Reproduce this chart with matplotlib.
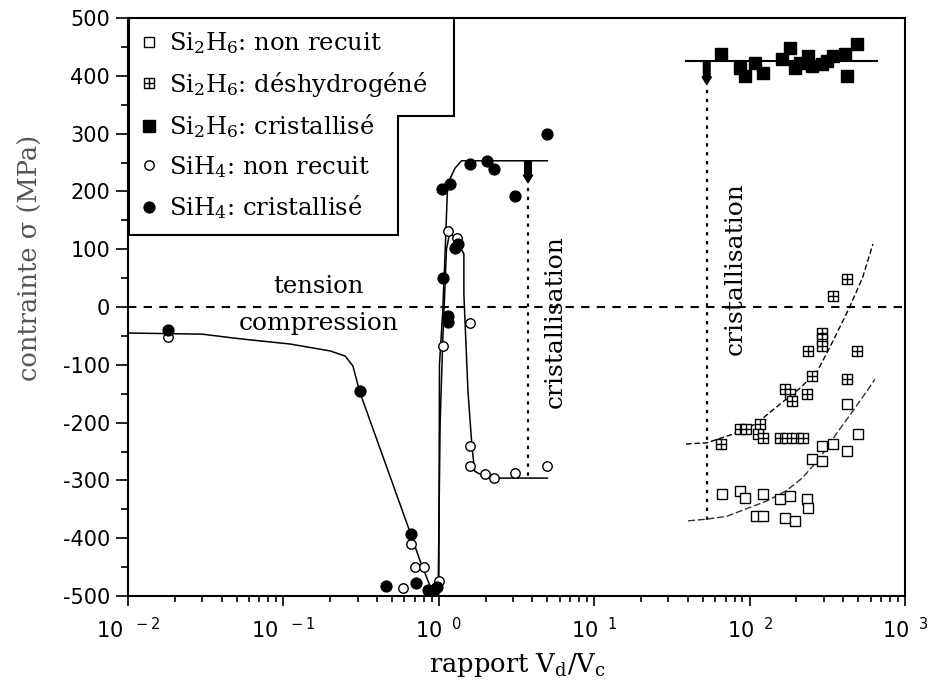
import math
import matplotlib
matplotlib.use('Agg')
import matplotlib.pyplot as plt
import matplotlib.ticker as mticker
from matplotlib.path import Path
from matplotlib.patches import Polygon

plt.rcParams['axes.unicode_minus'] = False
plt.rcParams['mathtext.default'] = 'regular'
plt.rcParams['font.family'] = ['DejaVu Serif']

# ---------------- data ----------------
# SiH4 : cristallise (filled circles)
sih4_cr_x = [0.018, 0.31, 0.66, 0.46, 0.71, 0.85, 0.92, 0.98, 1.06, 1.15, 1.15, 1.27, 1.33,
             1.05, 1.18, 1.59, 2.04, 2.27, 3.09, 4.97]
sih4_cr_y = [-40, -145, -393, -483, -477, -490, -490, -485, 50, -16, -26, 102, 109,
             205, 213, 247, 253, 239, 192, 299]
# SiH4 : non recuit (open circles)
sih4_nr_x = [0.018, 0.66, 0.70, 0.80, 0.59, 1.0, 1.06, 1.15, 1.31, 1.59, 1.59, 1.59,
             1.98, 2.28, 3.09, 4.97]
sih4_nr_y = [-52, -410, -450, -450, -486, -474, -67, 131, 119, -28, -240, -275,
             -289, -296, -287, -275]
# Si2H6 : cristallise (filled squares)
si2h6_cr_x = [65.5, 86.7, 93.5, 108, 122, 162, 182, 196, 212, 238, 253, 292, 315, 344,
              411, 424, 491]
si2h6_cr_y = [438, 413, 400, 422, 405, 429, 448, 413, 422, 434, 417, 420, 425, 434,
              438, 400, 455]
# Si2H6 : deshydrogene (boxed-plus squares)
si2h6_dh_x = [424, 344, 292, 292, 292, 238, 491, 253, 424, 169, 182, 188, 234, 117, 87,
              95, 114, 122, 157, 175, 200, 221, 65]
si2h6_dh_y = [48, 19, -45, -55, -67, -76, -76, -119, -125, -142, -150, -163, -150, -202,
              -211, -211, -220, -227, -227, -227, -227, -227, -237]
# Si2H6 : non recuit (open squares)
si2h6_nr_x = [66, 87, 94, 122, 110, 122, 157, 182, 169, 196, 234, 238, 253, 292, 292,
              344, 424, 496, 424]
si2h6_nr_y = [-324, -318, -330, -324, -362, -362, -332, -327, -365, -370, -332, -348,
              -263, -266, -240, -237, -249, -220, -168]

# guide curves
curve_sih4_cr_x = [0.01, 0.03, 0.0525, 0.11, 0.2, 0.25, 0.28, 0.31, 0.66, 0.76, 0.9, 0.98,
                   1.0, 1.01, 1.06, 1.1, 1.14, 1.27, 1.40, 5.0]
curve_sih4_cr_y = [-45, -47, -55, -64, -76, -85, -102, -147, -393, -440, -490, -497,
                   -497, -100, -7, 100, 213, 240, 253, 253]
curve_sih4_nr_x = [0.99, 1.02, 1.06, 1.12, 1.18, 1.3, 1.45, 1.45, 1.54, 1.63, 1.7, 2.05, 5.0]
curve_sih4_nr_y = [-497, -200, -60, 100, 130, 115, 92, 22, -145, -237, -284, -296, -296]
curve_si2h6_cr_x = [39, 660]
curve_si2h6_cr_y = [426, 426]
curve_si2h6_dh_x = [39, 53, 78, 110, 157, 212, 273, 344, 437, 532, 622]
curve_si2h6_dh_y = [-237, -235, -220, -202, -168, -140, -111, -59, -2, 50, 109]
curve_si2h6_nr_x = [40.2, 53, 71.6, 95.6, 128, 172, 218, 280, 360, 462, 570, 640]
curve_si2h6_nr_y = [-370, -367, -362, -349, -336, -318, -296, -263, -220, -180, -145, -125]

# crystallisation onsets (x, plateau, point, bottom)
cryst1 = (3.75, 253, 221, -295)
cryst2 = (53, 426, 391, -370)

labels = ['Si$_2$H$_6$: non recuit', 'Si$_2$H$_6$: déshydrogéné', 'Si$_2$H$_6$: cristallisé',
          'SiH$_4$: non recuit', 'SiH$_4$: cristallisé']

# ---------------- figure ----------------
fig = plt.figure(figsize=(9.42, 6.90), dpi=100)
ax = fig.add_axes([128/942, 1-596/690, 777/942, 578/690])
ax.set_xscale('log')
ax.set_xlim(1e-2, 1e3)
ax.set_ylim(-500, 500)

boxplus = Path([(-1, -1), (1, -1), (1, 1), (-1, 1), (-1, -1), (0, -1), (0, 1), (-1, 0), (1, 0)],
               [Path.MOVETO, Path.LINETO, Path.LINETO, Path.LINETO, Path.CLOSEPOLY,
                Path.MOVETO, Path.LINETO, Path.MOVETO, Path.LINETO])

# guide curves
ax.plot(curve_sih4_cr_x, curve_sih4_cr_y, color='black', lw=1.1, zorder=2)
ax.plot(curve_sih4_nr_x, curve_sih4_nr_y, color='black', lw=1.1, zorder=2)
ax.plot(curve_si2h6_cr_x, curve_si2h6_cr_y, color='black', lw=1.5, zorder=2)
ax.plot(curve_si2h6_dh_x, curve_si2h6_dh_y, color='black', lw=1.0, ls=(0, (4, 2)), zorder=2)
ax.plot(curve_si2h6_nr_x, curve_si2h6_nr_y, color='#333333', lw=1.0, ls=(0, (5, 2)), zorder=2)

# zero line
ax.axhline(0, color='black', lw=1.5, ls=(0, (4, 3.5)), zorder=1)

# crystallisation markers
for cx, top, pt, bot in (cryst1, cryst2):
    ax.plot([cx, cx], [pt, bot], color='black', lw=1.6, ls=(0, (1.5, 2.5)), zorder=1)
    ax.annotate('', xy=(cx, pt - 6), xytext=(cx, top),
                arrowprops=dict(arrowstyle='simple,head_width=0.55,head_length=0.45,tail_width=0.4',
                                color='black', shrinkA=0, shrinkB=0, mutation_scale=12))

# data points
h1, = ax.plot(si2h6_nr_x, si2h6_nr_y, ls='none', marker='s', ms=7.2, mfc='white', mec='black',
              mew=1.0, zorder=3)
h2, = ax.plot(si2h6_dh_x, si2h6_dh_y, ls='none', marker=boxplus, ms=7.5, mfc='white', mec='black',
              mew=1.0, zorder=3)
h3, = ax.plot(si2h6_cr_x, si2h6_cr_y, ls='none', marker='s', ms=8.6, color='black', zorder=3)
h4, = ax.plot(sih4_nr_x, sih4_nr_y, ls='none', marker='o', ms=6.8, mfc='white', mec='black',
              mew=1.0, zorder=3)
h5, = ax.plot(sih4_cr_x, sih4_cr_y, ls='none', marker='o', ms=7.8, color='black', zorder=4)

# texts
ax.text(0.167, 36, 'tension', ha='center', va='center', fontsize=17.5)
ax.text(0.17, -28, 'compression', ha='center', va='center', fontsize=18)
ax.text(5.6, -26, 'cristallisation', ha='center', va='center', rotation=90, fontsize=18)
ax.text(81, 67, 'cristallisation', ha='center', va='center', rotation=90, fontsize=18)

# legend with stepped frame
leg = ax.legend([h1, h2, h3, h4, h5], labels, loc='upper left', bbox_to_anchor=(0.0, 1.0),
                frameon=False, fontsize=17.5, handlelength=0.7, handletextpad=0.5,
                labelspacing=0.56, borderaxespad=0.0, borderpad=0.5)
frame = Polygon([(0.0013, 1.0), (0.4196, 1.0), (0.4196, 0.8304), (0.3475, 0.8304),
                 (0.3475, 0.6246), (0.0013, 0.6246)], closed=True, transform=ax.transAxes,
                facecolor='white', edgecolor='black', lw=1.5, zorder=5)
ax.add_patch(frame)
leg.set_zorder(6)

# axes styling
for s in ax.spines.values():
    s.set_linewidth(1.5)
ax.xaxis.set_major_locator(mticker.LogLocator(base=10, numticks=10))
ax.xaxis.set_minor_locator(mticker.LogLocator(base=10, subs=range(2, 10), numticks=20))
ax.xaxis.set_minor_formatter(mticker.NullFormatter())
ax.xaxis.set_major_formatter(mticker.FuncFormatter(
    lambda v, p: '10$^{\\ \\ %d}$' % round(math.log10(v))))
ax.yaxis.set_major_locator(mticker.MultipleLocator(100))
ax.yaxis.set_minor_locator(mticker.MultipleLocator(50))
ax.tick_params(axis='both', which='both', direction='out', top=False, right=False,
               labelfontfamily='DejaVu Sans', labelsize=15, width=1.2)
ax.tick_params(axis='y', which='major', length=9, pad=4)
ax.tick_params(axis='y', which='minor', length=5)
ax.tick_params(axis='x', which='major', length=7, pad=8)
ax.tick_params(axis='x', which='minor', length=4)

fig.text(517/942, 1-665/690, 'rapport V$_d$/V$_c$', ha='center', va='center', fontsize=18.5)
fig.text(30/942, 1-258/690, 'contrainte σ (MPa)', ha='center', va='center', rotation=90,
         fontsize=18.5, color='#555555')

fig.savefig('out.png', dpi=100)
